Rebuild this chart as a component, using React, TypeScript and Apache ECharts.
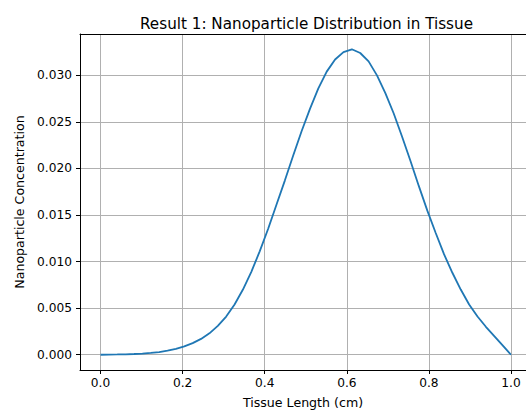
import React, { useEffect, useRef } from "react";
import * as echarts from "echarts";

const xValues: number[] = Array.from({ length: 50 }, (_, i) => i / 49);
const concentration: number[] = [
  0, 0.000018, 0.00003, 0.000048, 0.000078, 0.00012, 0.00019, 0.00029, 0.00043, 0.00063,
  0.0009, 0.00125, 0.0017, 0.0023, 0.0031, 0.0041, 0.0054, 0.007, 0.0089, 0.0111,
  0.0135, 0.0161, 0.0187, 0.0214, 0.024, 0.0264, 0.0286, 0.0304, 0.0317, 0.0325,
  0.0328, 0.0324, 0.0315, 0.03, 0.0281, 0.0259, 0.0234, 0.0208, 0.0181, 0.0155,
  0.0131, 0.0108, 0.0088, 0.007, 0.0054, 0.0041, 0.003, 0.002, 0.001, 0,
];
const xTicks: number[] = [0, 0.2, 0.4, 0.6, 0.8, 1.0];
const yTicks: number[] = [0, 0.005, 0.01, 0.015, 0.02, 0.025, 0.03];

const FONT = "DejaVu Sans";

export default function App() {
  const ref = useRef<HTMLDivElement>(null);
  useEffect(() => {
    if (!ref.current) return;
    const chart = echarts.init(ref.current, null, { renderer: "svg" });
    chart.setOption({
      animation: false,
      backgroundColor: "#ffffff",
      title: {
        text: "Result 1: Nanoparticle Distribution in Tissue",
        left: 135,
        top: 11,
        textStyle: { fontFamily: FONT, fontSize: 15.2, fontWeight: "normal", color: "#000" },
      },
      grid: { left: 80, top: 34, right: 0, bottom: 40, show: false, outerBoundsMode: "none", containLabel: false },
      xAxis: [
        {
          type: "value",
          min: -0.05,
          max: 1.0365,
          name: "Tissue Length (cm)",
          nameLocation: "middle",
          nameGap: 26,
          nameTextStyle: { fontFamily: FONT, fontSize: 12.6, color: "#000" },
          axisLine: { show: true, onZero: false, lineStyle: { color: "#000", width: 1 } },
          axisTick: { show: true, length: 4, customValues: xTicks, lineStyle: { color: "#000" } },
          axisLabel: {
            customValues: xTicks,
            margin: 7,
            fontFamily: FONT,
            fontSize: 12.2,
            color: "#000",
            formatter: (v: number) => v.toFixed(1),
          },
          splitLine: { show: true, lineStyle: { color: "#b0b0b0", width: 1 } },
        },
        {
          type: "value",
          position: "top",
          min: -0.05,
          max: 1.0365,
          axisLine: { show: true, onZero: false, lineStyle: { color: "#000", width: 1 } },
          axisTick: { show: false },
          axisLabel: { show: false },
          splitLine: { show: false },
        },
      ],
      yAxis: {
        type: "value",
        min: -0.00164,
        max: 0.03444,
        name: "Nanoparticle Concentration",
        nameLocation: "middle",
        nameGap: 51,
        nameTextStyle: { fontFamily: FONT, fontSize: 12.6, color: "#000" },
        axisLine: { show: true, onZero: false, lineStyle: { color: "#000", width: 1 } },
        axisTick: { show: true, length: 4, customValues: yTicks, lineStyle: { color: "#000" } },
        axisLabel: {
          customValues: yTicks,
          margin: 8,
          fontFamily: FONT,
          fontSize: 12.2,
          color: "#000",
          formatter: (v: number) => v.toFixed(3),
        },
        splitLine: { show: true, lineStyle: { color: "#b0b0b0", width: 1 } },
      },
      series: [
        {
          type: "line",
          xAxisIndex: 0,
          data: xValues.map((x, i) => [x, concentration[i]]),
          showSymbol: false,
          lineStyle: { color: "#1f77b4", width: 1.8 },
          itemStyle: { color: "#1f77b4" },
        },
      ],
    });
    return () => chart.dispose();
  }, []);
  return (
    <div
      ref={ref}
      style={{ position: "fixed", left: 0, top: 0, width: 526, height: 410, background: "#fff" }}
    />
  );
}
